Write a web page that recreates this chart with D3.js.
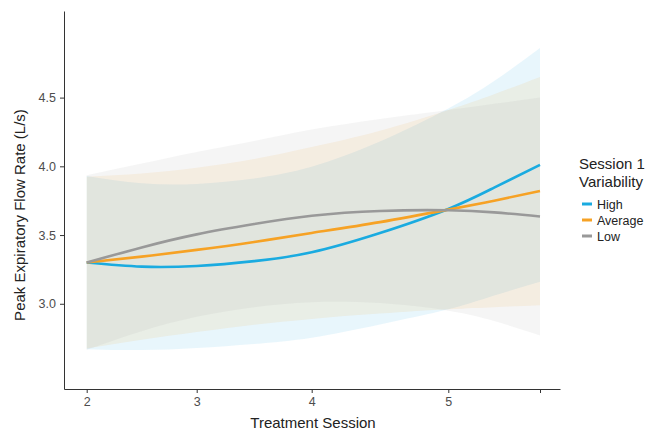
<!DOCTYPE html>
<html lang="en">
<head>
    <meta charset="UTF-8">
    <title>Peak Expiratory Flow Rate by Session</title>
    <script src="https://d3js.org/d3.v7.min.js"></script>
    <style>
        body {
            margin: 0;
            padding: 0;
            background: #fff;
        }
        svg {
            font-family: "Liberation Sans", Arial, sans-serif;
            display: block;
        }
        .axis path, .axis line {
            stroke: #333;
            stroke-width: 1;
        }
        .axis text {
            fill: #4d4d4d;
            font-size: 12.5px;
        }
    </style>
</head>
<body>
    <svg></svg>

    <script>
        // values
        const sessions = [2, 2.5, 3, 3.5, 4, 4.5, 5, 5.5, 6];
        const xTickValues = [2, 3, 4, 5, 6];
        const xTickLabels = ["2", "3", "4", "5", ""];
        const yTickValues = [3.0, 3.5, 4.0, 4.5];

        const highMean  = [3.30, 3.27, 3.275, 3.31, 3.375, 3.515, 3.69, 3.845, 4.01];
        const highLower = [2.67, 2.663, 2.678, 2.708, 2.753, 2.85, 2.96, 3.06, 3.16];
        const highUpper = [3.93, 3.877, 3.872, 3.912, 3.997, 4.18, 4.42, 4.62, 4.86];

        const avgMean  = [3.30, 3.343, 3.392, 3.45, 3.515, 3.594, 3.685, 3.75, 3.82];
        const avgLower = [2.675, 2.738, 2.794, 2.847, 2.89, 2.929, 2.96, 2.975, 2.99];
        const avgUpper = [3.925, 3.948, 3.99, 4.053, 4.14, 4.259, 4.41, 4.525, 4.65];

        const lowMean  = [3.30, 3.41, 3.505, 3.58, 3.64, 3.675, 3.68, 3.665, 3.635];
        const lowLower = [2.665, 2.80, 2.905, 2.975, 3.012, 3.005, 2.95, 2.875, 2.77];
        const lowUpper = [3.935, 4.02, 4.105, 4.185, 4.268, 4.345, 4.41, 4.455, 4.50];

        const seriesNames = ["High", "Average", "Low"];
        const seriesColors = ["#1aabe0", "#f6a225", "#999999"];

        const series = [
            { name: seriesNames[0], color: seriesColors[0], mean: highMean, lower: highLower, upper: highUpper },
            { name: seriesNames[1], color: seriesColors[1], mean: avgMean, lower: avgLower, upper: avgUpper },
            { name: seriesNames[2], color: seriesColors[2], mean: lowMean, lower: lowLower, upper: lowUpper }
        ];

        const width = 666;
        const height = 434;
        const svg = d3.select("svg").attr("width", width).attr("height", height);

        // session axis is not evenly spaced in the original, so use a piecewise scale
        const x = d3.scaleLinear()
            .domain([1.79, 2, 3, 4, 5, 6, 6.22])
            .range([64, 86.7, 196.7, 311.7, 448.3, 540, 560]);

        const y = d3.scaleLinear()
            .domain([2.38, 5.13])
            .range([389, 11]);

        const curve = d3.curveNatural;

        const area = d3.area()
            .x(d => x(d.s))
            .y0(d => y(d.lo))
            .y1(d => y(d.hi))
            .curve(curve);

        const line = d3.line()
            .x(d => x(d.s))
            .y(d => y(d.m))
            .curve(curve);

        const rows = s => sessions.map((v, i) => ({ s: v, m: s.mean[i], lo: s.lower[i], hi: s.upper[i] }));

        // confidence ribbons
        svg.append("g")
            .selectAll("path")
            .data(series)
            .join("path")
            .attr("d", d => area(rows(d)))
            .attr("fill", d => d.color)
            .attr("fill-opacity", 0.1);

        // fitted lines
        svg.append("g")
            .selectAll("path")
            .data(series)
            .join("path")
            .attr("d", d => line(rows(d)))
            .attr("fill", "none")
            .attr("stroke", d => d.color)
            .attr("stroke-width", 2.6);

        // axes
        const xAxis = d3.axisBottom(x)
            .tickValues(xTickValues)
            .tickFormat((d, i) => xTickLabels[i])
            .tickSizeInner(4)
            .tickSizeOuter(0)
            .tickPadding(4);

        svg.append("g")
            .attr("class", "axis")
            .attr("transform", `translate(0,${y.range()[0]})`)
            .call(xAxis);

        const yAxis = d3.axisLeft(y)
            .tickValues(yTickValues)
            .tickFormat(d3.format(".1f"))
            .tickSizeInner(4)
            .tickSizeOuter(0)
            .tickPadding(4);

        svg.append("g")
            .attr("class", "axis")
            .attr("transform", `translate(${x.range()[0]},0)`)
            .call(yAxis);

        // axis titles
        svg.append("text")
            .attr("x", 313)
            .attr("y", 428)
            .attr("text-anchor", "middle")
            .attr("fill", "#222")
            .style("font-size", "15px")
            .text("Treatment Session");

        svg.append("text")
            .attr("transform", "translate(25,215) rotate(-90)")
            .attr("text-anchor", "middle")
            .attr("fill", "#222")
            .style("font-size", "15px")
            .text("Peak Expiratory Flow Rate (L/s)");

        // legend
        const legend = svg.append("g").attr("transform", "translate(579,0)");

        legend.append("text")
            .attr("x", 0)
            .attr("y", 169)
            .attr("fill", "#222")
            .style("font-size", "15px")
            .text("Session 1");

        legend.append("text")
            .attr("x", 0)
            .attr("y", 187)
            .attr("fill", "#222")
            .style("font-size", "15px")
            .text("Variability");

        const items = legend.selectAll(".item")
            .data(series)
            .join("g")
            .attr("class", "item")
            .attr("transform", (d, i) => `translate(0,${204 + i * 16})`);

        items.append("line")
            .attr("x1", 3)
            .attr("x2", 13)
            .attr("stroke", d => d.color)
            .attr("stroke-width", 3);

        items.append("text")
            .attr("x", 18)
            .attr("y", 4.5)
            .attr("fill", "#222")
            .style("font-size", "12.5px")
            .text(d => d.name);
    </script>
</body>
</html>
